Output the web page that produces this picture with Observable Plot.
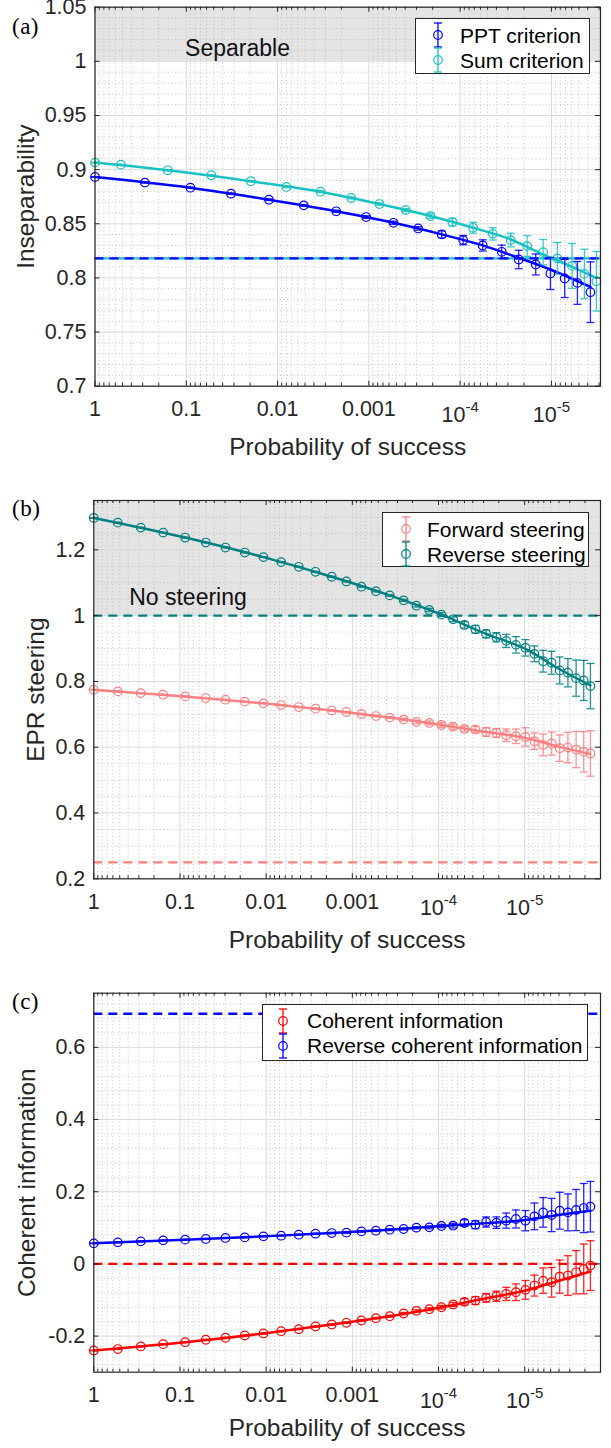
<!DOCTYPE html>
<html><head><meta charset="utf-8">
<script src="https://cdn.jsdelivr.net/npm/d3@7"></script>
<script src="https://cdn.jsdelivr.net/npm/@observablehq/plot@0.6"></script>
<style>
body{margin:0;background:#fff;}
#root{position:relative;width:611px;height:1448px;overflow:hidden;font-family:"Liberation Sans",Arial,sans-serif;color:#262626;}
.panel{position:absolute;left:0;}
.plabel{position:absolute;left:12px;font-family:"Liberation Serif","Times New Roman",serif;font-size:23px;line-height:23px;letter-spacing:0.5px;color:#000;}
.legend{position:absolute;background:#fff;border:1px solid #262626;box-sizing:border-box;}
.legend .row{position:absolute;font-size:21px;line-height:24px;white-space:nowrap;color:#000;}
.legend svg{position:absolute;overflow:visible;}
</style></head>
<body><div id="root"></div>
<script>
// ---------- Panel (a): inseparability ----------
const pptP = [1, 0.2841, 0.0901, 0.03235, 0.01243, 0.005171, 0.00228, 0.00107, 0.0005376, 0.0002884, 0.000159, 0.0000927, 0.00005656, 0.00003502, 0.00002282, 0.00001486, 0.00001026, 0.000007154, 0.000005193, 0.00000374];
const pptV = [0.8932, 0.8880, 0.8833, 0.8778, 0.8722, 0.8670, 0.8615, 0.8562, 0.8509, 0.8457, 0.8402, 0.8349, 0.8300, 0.8241, 0.8170, 0.8124, 0.8041, 0.7995, 0.7954, 0.7868];
const pptE = [0.0003, 0.0004, 0.0005, 0.0006, 0.0007, 0.0008, 0.001, 0.0012, 0.0014, 0.0016, 0.0032, 0.0043, 0.0052, 0.0062, 0.0085, 0.0097, 0.0148, 0.0176, 0.0198, 0.028];
const sumP = [1, 0.5203, 0.1598, 0.05311, 0.01965, 0.00801, 0.003389, 0.001562, 0.0007655, 0.0003943, 0.0002115, 0.0001215, 0.00007207, 0.00004394, 0.00002791, 0.00001845, 0.00001233, 0.000008599, 0.000005933, 0.000004351, 0.000003213];
const sumV = [0.9065, 0.9046, 0.8994, 0.8948, 0.8893, 0.8840, 0.8796, 0.8738, 0.8682, 0.8627, 0.8571, 0.8516, 0.8463, 0.8407, 0.8349, 0.8294, 0.8238, 0.8180, 0.8111, 0.8037, 0.7969];
const sumE = [0.0003, 0.0003, 0.0004, 0.0004, 0.0005, 0.0006, 0.0007, 0.0008, 0.001, 0.0013, 0.002, 0.0035, 0.005, 0.0057, 0.0063, 0.0096, 0.0117, 0.0147, 0.0207, 0.0228, 0.0275];
const pptThP = [1, 0.0901, 0.0124, 0.00228, 0.000537, 0.000159, 0.0000566, 0.0000228, 0.0000103, 0.00000374];
const pptThV = [0.8932, 0.8833, 0.8722, 0.8615, 0.8509, 0.8402, 0.8300, 0.8185, 0.8078, 0.7917];
const sumThP = [1, 0.1598, 0.01965, 0.003389, 0.0007655, 0.0002115, 0.00007207, 0.00002791, 0.00001233, 0.000005933, 0.000003213];
const sumThV = [0.9065, 0.8994, 0.8893, 0.8796, 0.8682, 0.8571, 0.8463, 0.8355, 0.8217, 0.8102, 0.800];
const boundA = 0.818;           // dashed bound
const shadeA = {lo: 1, hi: 1.05};

// ---------- Panels (b), (c): common probabilities ----------
const pBC = [1, 0.5266, 0.285, 0.1566, 0.08705, 0.05019, 0.02967, 0.01771, 0.01075, 0.006699, 0.004185, 0.002678, 0.001734, 0.001171, 0.0007839, 0.0005324, 0.0003682, 0.0002541, 0.0001805, 0.0001279, 0.00009256, 0.00006771, 0.00005005, 0.00003731, 0.00002804, 0.0000213, 0.00001639, 0.00001265, 0.000009815, 0.000007719, 0.000006115, 0.000004873, 0.000003926, 0.000003153, 0.000002533, 0.000002067, 0.000001729];
const thBC = [1, 0.08705, 0.01075, 0.001734, 0.0003682, 0.00009256, 0.00002804, 0.000009815, 0.000003926, 0.000001729];

// (b) EPR steering
const revV = [1.297, 1.2827, 1.2676, 1.2524, 1.2373, 1.2221, 1.2070, 1.1918, 1.1779, 1.1627, 1.1485, 1.1333, 1.1182, 1.104, 1.088, 1.0742, 1.0615, 1.0464, 1.0303, 1.0173, 1.0030, 0.9888, 0.9718, 0.9585, 0.9445, 0.9342, 0.9233, 0.9112, 0.9021, 0.8839, 0.8615, 0.8567, 0.8333, 0.8264, 0.8100, 0.8030, 0.7858];
const revE = [0.001, 0.001, 0.001, 0.001, 0.001, 0.001, 0.001, 0.0012, 0.0012, 0.0013, 0.0014, 0.0015, 0.0016, 0.0017, 0.0018, 0.002, 0.0025, 0.003, 0.004, 0.005, 0.006, 0.007, 0.010, 0.0116, 0.012, 0.014, 0.020, 0.025, 0.025, 0.024, 0.033, 0.035, 0.041, 0.043, 0.055, 0.061, 0.069];
const fwdV = [0.7748, 0.7697, 0.7645, 0.7597, 0.7545, 0.7494, 0.7445, 0.7385, 0.7333, 0.7282, 0.7221, 0.7173, 0.7115, 0.707, 0.701, 0.6948, 0.690, 0.684, 0.6767, 0.6737, 0.6676, 0.6627, 0.6555, 0.6535, 0.6464, 0.6433, 0.6364, 0.6333, 0.6313, 0.6182, 0.607, 0.6111, 0.597, 0.599, 0.5929, 0.5858, 0.5809];
const fwdE = [0.001, 0.001, 0.001, 0.001, 0.001, 0.001, 0.001, 0.0012, 0.0012, 0.0013, 0.0014, 0.0015, 0.0016, 0.0017, 0.0018, 0.002, 0.003, 0.004, 0.005, 0.006, 0.007, 0.008, 0.008, 0.010, 0.0136, 0.0136, 0.019, 0.022, 0.028, 0.025, 0.033, 0.035, 0.040, 0.046, 0.055, 0.061, 0.069];
const revThV = [1.297, 1.2373, 1.1779, 1.1182, 1.0615, 1.003, 0.9445, 0.899, 0.837, 0.788];
const fwdThV = [0.7748, 0.7545, 0.7333, 0.7115, 0.690, 0.6676, 0.6464, 0.628, 0.601, 0.579];
const boundRev = 1.0, boundFwd = 0.25;
const shadeB = {lo: 1, hi: 1.35};

// (c) coherent information
const ciV = [-0.2397, -0.2358, -0.2286, -0.2223, -0.2168, -0.2101, -0.2046, -0.1983, -0.1927, -0.1864, -0.1808, -0.1734, -0.1678, -0.1631, -0.1568, -0.1504, -0.1449, -0.1374, -0.1300, -0.1255, -0.12, -0.1125, -0.1051, -0.1015, -0.094, -0.0896, -0.083, -0.0785, -0.0719, -0.06, -0.0462, -0.0508, -0.0351, -0.0323, -0.0232, -0.0138, -0.0047];
const ciE = [0.001, 0.001, 0.001, 0.001, 0.001, 0.001, 0.001, 0.001, 0.001, 0.001, 0.0012, 0.0013, 0.0015, 0.0017, 0.002, 0.002, 0.0025, 0.0028, 0.003, 0.004, 0.005, 0.0055, 0.009, 0.011, 0.012, 0.014, 0.018, 0.023, 0.026, 0.029, 0.035, 0.041, 0.046, 0.055, 0.06, 0.069, 0.069];
const rciV = [0.0570, 0.0597, 0.0625, 0.0653, 0.0672, 0.0691, 0.0719, 0.0735, 0.0763, 0.0782, 0.0810, 0.0838, 0.0855, 0.0866, 0.0901, 0.092, 0.0948, 0.0967, 0.1004, 0.1013, 0.105, 0.1059, 0.1133, 0.1087, 0.1161, 0.1142, 0.1198, 0.1244, 0.1198, 0.1317, 0.1428, 0.1355, 0.1474, 0.1428, 0.1493, 0.1548, 0.1585];
const rciE = [0.001, 0.001, 0.001, 0.001, 0.001, 0.001, 0.001, 0.001, 0.001, 0.001, 0.0012, 0.0013, 0.0015, 0.0017, 0.002, 0.002, 0.0025, 0.0028, 0.003, 0.004, 0.0046, 0.0065, 0.009, 0.011, 0.014, 0.016, 0.021, 0.025, 0.028, 0.037, 0.041, 0.046, 0.051, 0.051, 0.057, 0.068, 0.07];
const ciThV = [-0.2397, -0.2168, -0.1927, -0.1678, -0.1449, -0.120, -0.095, -0.0738, -0.046, -0.0213];
const rciThV = [0.057, 0.0672, 0.0763, 0.0855, 0.0948, 0.105, 0.113, 0.1216, 0.1363, 0.1474];
const boundRci = 0.693, boundCi = 0;

// ---------- tick labels ----------
const xTickVals = [1, 0.1, 0.01, 0.001, 1e-4, 1e-5];
const xTickLabels = ["1", "0.1", "0.01", "0.001", "10^-4", "10^-5"];
const yTicksA = [0.7, 0.75, 0.8, 0.85, 0.9, 0.95, 1, 1.05];
const yTicksB = [0.2, 0.4, 0.6, 0.8, 1, 1.2];
const yTicksC = [-0.2, 0, 0.2, 0.4, 0.6];

// ---------- helpers ----------
const pts = (P, V, E) => P.map((p, i) => ({x: p, y: V[i], e: E ? E[i] : 0}));
const capSymbol = {draw(ctx) { ctx.moveTo(-4, 0); ctx.lineTo(4, 0); }};
const AX = "#262626";

function minorX(dom) {
  const out = [];
  for (let k = 0; k >= -7; k--) for (let m = 2; m <= 9; m++) {
    const v = m * Math.pow(10, k - 1);
    if (v < dom[0] && v > dom[1]) out.push(v);
  }
  return out;
}
function minorY(dom, step, major) {
  const out = [];
  for (let k = Math.ceil(dom[0] / step - 1e-9); k * step <= dom[1] + 1e-9; k++) {
    const v = +(k * step).toFixed(4);
    if (!major.some(m => Math.abs(m - v) < 1e-6)) out.push(v);
  }
  return out;
}

function makePanel(o) {
  const W = 611, mr = 11;
  const plotH = o.height - o.mt - o.mb, plotW = W - o.ml - mr;
  const xMinor = minorX(o.xDomain);
  const yMinor = minorY(o.yDomain, o.yStep, o.yTicks);
  const marks = [];
  if (o.shade) marks.push(Plot.rect([o.shade], {y1: "lo", y2: "hi", fill: "#e4e4e4"}));
  marks.push(
    Plot.ruleX(xMinor, {stroke: "#b8b8b8", strokeWidth: 0.8, strokeDasharray: "1,2.5"}),
    Plot.ruleY(yMinor, {stroke: "#b8b8b8", strokeWidth: 0.8, strokeDasharray: "1,2.5"}),
    Plot.ruleX(xTickVals, {stroke: "#dadada", strokeWidth: 1}),
    Plot.ruleY(o.yTicks, {stroke: "#dadada", strokeWidth: 1})
  );
  for (const h of o.hlines) marks.push(Plot.ruleY([h.v], {stroke: h.color, strokeWidth: 2.3, strokeDasharray: h.dash || null}));
  if (o.annotation) marks.push(Plot.text([o.annotation.text], {frameAnchor: "top-left", dx: o.annotation.dx, dy: o.annotation.dy, textAnchor: "middle", lineAnchor: "middle", fontSize: 23, fill: "#111"}));
  for (const s of o.series) {
    marks.push(Plot.line(s.theory, {x: "x", y: "y", stroke: s.color, strokeWidth: 2.5, curve: "monotone-x"}));
  }
  for (const s of o.series) {
    marks.push(
      Plot.ruleX(s.data, {x: "x", y1: d => d.y - d.e, y2: d => d.y + d.e, stroke: s.color, strokeWidth: 1.3, strokeOpacity: 0.85}),
      Plot.dot(s.data, {x: "x", y: d => d.y + d.e, symbol: capSymbol, r: 4, stroke: s.color, fill: "none", strokeWidth: 1.3, strokeOpacity: 0.85}),
      Plot.dot(s.data, {x: "x", y: d => d.y - d.e, symbol: capSymbol, r: 4, stroke: s.color, fill: "none", strokeWidth: 1.3, strokeOpacity: 0.85}),
      Plot.dot(s.data, {x: "x", y: "y", r: 4.3, stroke: s.color, fill: "none", strokeWidth: 1.2})
    );
  }
  marks.push(
    // inward ticks
    Plot.ruleX(xTickVals, {stroke: AX, insetTop: plotH - 5}),
    Plot.ruleX(xTickVals, {stroke: AX, insetBottom: plotH - 5}),
    Plot.ruleX(xMinor, {stroke: AX, insetTop: plotH - 3}),
    Plot.ruleX(xMinor, {stroke: AX, insetBottom: plotH - 3}),
    Plot.ruleY(o.yTicks, {stroke: AX, insetRight: plotW - 5}),
    Plot.ruleY(o.yTicks, {stroke: AX, insetLeft: plotW - 5}),
    Plot.frame({stroke: AX, strokeWidth: 1.2}),
    Plot.axisX(xTickVals, {tickSize: 0, tickPadding: 14.5, fontSize: 21.5, fill: AX, label: null,
      tickFormat: d => xTickLabels[xTickVals.indexOf(d)]}),
    Plot.axisY(o.yTicks, {tickSize: 0, tickPadding: 8.5, fontSize: 21.5, fill: AX, label: null,
      tickFormat: d => String(+d.toFixed(2))}),
    Plot.text(["Probability of success"], {frameAnchor: "bottom", dy: o.xLabelDy, textAnchor: "middle", lineAnchor: "middle", fontSize: 24.5, fill: AX}),
    Plot.text([o.yLabel], {frameAnchor: "left", dx: o.yLabelDx, rotate: -90, textAnchor: "middle", lineAnchor: "middle", fontSize: 24.5, fill: AX})
  );
  const svg = Plot.plot({
    width: W, height: o.height, marginTop: o.mt, marginBottom: o.mb, marginLeft: o.ml, marginRight: mr,
    x: {type: "log", domain: o.xDomain, label: null},
    y: {domain: o.yDomain, label: null},
    style: {fontFamily: '"Liberation Sans", Arial, sans-serif', fontSize: "21.5px", color: AX, background: "transparent", overflow: "visible"},
    marks
  });
  // superscripts for 10^-k tick labels
  d3.select(svg).selectAll("text").each(function () {
    const m = /^10\^(-?\d+)$/.exec(this.textContent);
    if (m) {
      const s = d3.select(this);
      s.text("");
      s.append("tspan").attr("dy", "6").text("10");
      s.append("tspan").attr("dy", "-10").attr("font-size", "15px").text(m[1]);
    }
  });
  const wrap = document.createElement("div");
  wrap.className = "panel";
  wrap.style.top = o.top + "px";
  wrap.appendChild(svg);
  document.getElementById("root").appendChild(wrap);
}

function legendSymbol(color) {
  return `<svg width="12" height="26" viewBox="-6 -13 12 26">
    <line x1="0" y1="-12" x2="0" y2="12" stroke="${color}" stroke-width="1.3"/>
    <line x1="-4" y1="-12" x2="4" y2="-12" stroke="${color}" stroke-width="1.3"/>
    <line x1="-4" y1="12" x2="4" y2="12" stroke="${color}" stroke-width="1.3"/>
    <circle r="4.3" fill="none" stroke="${color}" stroke-width="1.2"/></svg>`;
}
function makeLegend(o) {
  const d = document.createElement("div");
  d.className = "legend";
  Object.assign(d.style, {left: o.left + "px", top: o.top + "px", width: o.w + "px", height: o.h + "px"});
  let html = "";
  o.items.forEach((it, i) => {
    const cy = o.rows[i];
    html += `<div class="row" style="left:${o.symX - 6}px;top:${cy - 13}px">${legendSymbol(it.color)}</div>`;
    html += `<div class="row" style="left:${o.textX}px;top:${cy - 11.5}px">${it.label}</div>`;
  });
  d.innerHTML = html;
  document.getElementById("root").appendChild(d);
}
function panelLabel(t, top) {
  const d = document.createElement("div");
  d.className = "plabel";
  d.style.top = top + "px";
  d.textContent = t;
  document.getElementById("root").appendChild(d);
}

const colPPT = "#0000ff", colSum = "#19c2c2", colFwd = "#ff8080", colRev = "#008080", colCI = "#ff0000", colRCI = "#0000ff";

// Panel (a)
makePanel({
  top: 0, height: 480, mt: 6.7, mb: 94.3, ml: 94.5, xLabelDy: 61,
  xDomain: [1, 2.9e-6], yDomain: [0.7, 1.05], yTicks: yTicksA, yStep: 0.01,
  yLabel: "Inseparability", yLabelDx: -68.5,
  shade: shadeA,
  hlines: [{v: boundA, color: colSum}, {v: boundA, color: colPPT, dash: "9,6"}],
  annotation: {text: "Separable", dx: 142.5, dy: 41.3},
  series: [
    {color: colSum, data: pts(sumP, sumV, sumE), theory: pts(sumThP, sumThV)},
    {color: colPPT, data: pts(pptP, pptV, pptE), theory: pts(pptThP, pptThV)}
  ]
});
// Panel (b)
makePanel({
  top: 480, height: 480, mt: 20, mb: 81.7, ml: 93.3, xLabelDy: 61,
  xDomain: [1, 1.32e-6], yDomain: [0.2, 1.35], yTicks: yTicksB, yStep: 0.05,
  yLabel: "EPR steering", yLabelDx: -57.3,
  shade: shadeB,
  hlines: [{v: boundRev, color: colRev, dash: "9,6"}, {v: boundFwd, color: colFwd, dash: "9,6"}],
  annotation: {text: "No steering", dx: 94.2, dy: 96.7},
  series: [
    {color: colFwd, data: pts(pBC, fwdV, fwdE), theory: pts(thBC, fwdThV)},
    {color: colRev, data: pts(pBC, revV, revE), theory: pts(thBC, revThV)}
  ]
});
// Panel (c)
makePanel({
  top: 960, height: 488, mt: 32.7, mb: 76.3, ml: 93.3, xLabelDy: 56,
  xDomain: [1, 1.32e-6], yDomain: [-0.3, 0.75], yTicks: yTicksC, yStep: 0.04,
  yLabel: "Coherent information", yLabelDx: -67,
  shade: null,
  hlines: [{v: boundRci, color: colRCI, dash: "9,6"}, {v: boundCi, color: colCI, dash: "9,6"}],
  annotation: null,
  series: [
    {color: colCI, data: pts(pBC, ciV, ciE), theory: pts(thBC, ciThV)},
    {color: colRCI, data: pts(pBC, rciV, rciE), theory: pts(thBC, rciThV)}
  ]
});

makeLegend({left: 415, top: 18, w: 175, h: 56, symX: 22, textX: 44, rows: [16.3, 41.3],
  items: [{label: "PPT criterion", color: colPPT}, {label: "Sum criterion", color: colSum}]});
makeLegend({left: 382, top: 511.7, w: 206.7, h: 55.6, symX: 23, textX: 44, rows: [16.6, 41.6],
  items: [{label: "Forward steering", color: colFwd}, {label: "Reverse steering", color: colRev}]});
makeLegend({left: 262.3, top: 1004.3, w: 326, h: 56.4, symX: 19.4, textX: 43.7, rows: [15.7, 40.7],
  items: [{label: "Coherent information", color: colCI}, {label: "Reverse coherent information", color: colRCI}]});

panelLabel("(a)", 14.8);
panelLabel("(b)", 496.8);
panelLabel("(c)", 990);
</script>
</body></html>
